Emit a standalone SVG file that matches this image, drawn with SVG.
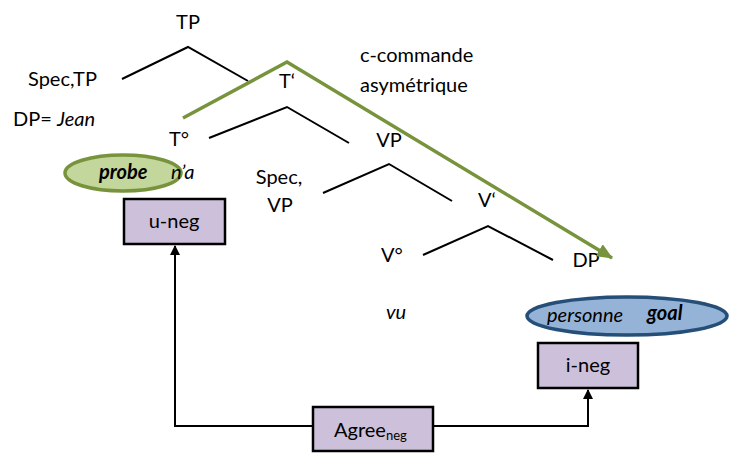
<svg xmlns="http://www.w3.org/2000/svg" width="751" height="465" viewBox="0 0 751 465">
<style>
text{font-family:Lato,"Open Sans","Liberation Sans",sans-serif;font-size:20px;fill:#000}
.it{font-style:italic}
.bi{font-style:italic;font-weight:bold}
.br{fill:none;stroke:#000;stroke-width:2}
.box{fill:#CCC0DA;stroke:#000;stroke-width:2.5}
.mid{text-anchor:middle}
.con{fill:none;stroke:#000;stroke-width:2}
</style>
<defs>
<marker id="ah" markerWidth="10" markerHeight="10" refX="9" refY="5" orient="auto" markerUnits="userSpaceOnUse">
<path d="M0,0 L10,5 L0,10 z" fill="#000"/>
</marker>
<marker id="gh" markerWidth="16" markerHeight="14" refX="15" refY="7" orient="auto" markerUnits="userSpaceOnUse">
<path d="M0,0 L16,7 L0,14 z" fill="#77933C"/>
</marker>
</defs>
<rect width="751" height="465" fill="#fff"/>
<g id="tree">
<path class="br" d="M122,79 L188,47 L248,81"/>
<path class="br" d="M209,138 L287,107 L349,143"/>
<path class="br" d="M323,193 L389,164 L452,201"/>
<path class="br" d="M423,255 L488,226 L553,260"/>
</g>
<g id="TP"><text class="mid" x="188" y="29">TP</text></g>
<g id="SpecTP"><text x="28" y="86">Spec,TP</text><text x="13" y="126">DP= <tspan class="it">Jean</tspan></text></g>
<g id="Tbar"><text class="mid" x="287" y="88">T‘</text></g>
<g id="T0"><text class="mid" x="179" y="146">T°</text></g>
<g id="ccommande"><text x="360" y="62">c-commande</text><text x="360" y="92">asymétrique</text></g>
<g id="VP"><text class="mid" x="389" y="147">VP</text></g>
<g id="SpecVP"><text class="mid" x="279" y="184">Spec,</text><text class="mid" x="280" y="212">VP</text></g>
<g id="Vbar"><text class="mid" x="487" y="207">V‘</text></g>
<g id="V0"><text class="mid" x="392" y="262">V°</text><text class="it mid" x="396" y="319">vu</text></g>
<g id="DP"><text class="mid" x="586" y="267">DP</text></g>
<g id="cc-arrow"><path d="M183,118 L287,62 L612,258" fill="none" stroke="#77933C" stroke-width="3.5" marker-end="url(#gh)"/></g>
<g id="probe">
<ellipse cx="123" cy="173" rx="58" ry="18" fill="#C3D69B" stroke="#77933C" stroke-width="3.5"/>
<text class="bi" x="99" y="179">probe</text>
<text class="it" x="171" y="179">n’a</text>
</g>
<g id="goal">
<ellipse cx="627" cy="316" rx="100" ry="19" fill="#95B3D7" stroke="#254E78" stroke-width="3.5"/>
<text class="it" x="547" y="322">personne</text>
<text class="bi" x="647" y="320">goal</text>
</g>
<g id="uneg"><rect class="box" x="124" y="199" width="101" height="45"/><text class="mid" x="174" y="228">u-neg</text></g>
<g id="ineg"><rect class="box" x="538" y="343" width="100" height="45"/><text class="mid" x="588" y="372">i-neg</text></g>
<g id="agree"><rect class="box" x="313" y="407" width="120" height="44"/><text x="334" y="437">Agree<tspan font-size="13" dy="3">neg</tspan></text></g>
<g id="connectors">
<path class="con" d="M313,426 L175,426 L175,246" marker-end="url(#ah)"/>
<path class="con" d="M433,426 L588,426 L588,390" marker-end="url(#ah)"/>
</g>
</svg>
